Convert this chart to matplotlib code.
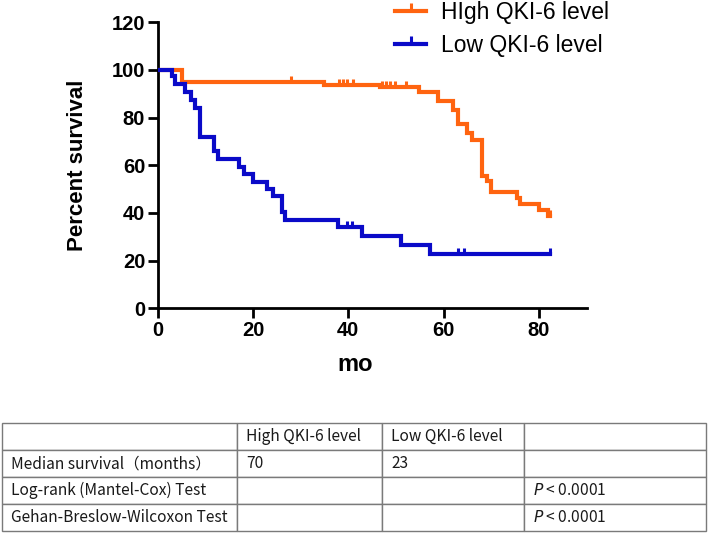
import numpy as np
import matplotlib
matplotlib.use("Agg")
import matplotlib.pyplot as plt
from matplotlib.lines import Line2D

# survival steps (month, percent after the drop)
high_t = [5.1, 34.8, 46.7, 54.8, 58.9, 62.0, 62.9, 64.9, 65.9, 68.0, 69.0, 70.0, 75.3, 76.1, 80.0, 81.9]
high_s = [95.1, 93.8, 92.8, 90.6, 86.8, 83.4, 77.4, 73.4, 70.8, 55.4, 53.3, 48.6, 46.3, 43.6, 41.1, 38.6]
high_cens_t = [28.0, 38.0, 38.9, 39.8, 41.0, 47.0, 47.8, 48.7, 49.7, 52.0, 82.2]
high_cens_s = [95.1, 93.8, 93.8, 93.8, 93.8, 92.8, 92.8, 92.8, 92.8, 92.8, 38.6]

low_t = [3.0, 3.7, 5.7, 6.9, 7.9, 8.8, 11.8, 12.7, 17.0, 18.0, 19.9, 23.0, 24.1, 26.0, 26.7, 37.8, 42.9, 51.1, 57.1]
low_s = [97.4, 94.2, 90.8, 87.4, 84.2, 71.8, 65.8, 62.6, 59.3, 56.4, 53.2, 50.1, 47.0, 40.3, 37.2, 34.2, 30.5, 26.4, 22.8]
low_cens_t = [39.7, 40.8, 63.0, 64.2, 82.2]
low_cens_s = [34.2, 34.2, 22.8, 22.8, 22.8]

labels = ["HIgh QKI-6 level", "Low QKI-6 level"]
colors = ["#FF6410", "#0A0AC8"]

xticks = [0, 20, 40, 60, 80]
yticks = [0, 20, 40, 60, 80, 100, 120]

table_rows = [
    ["", "High QKI-6 level", "Low QKI-6 level", ""],
    ["Median survival（months）", "70", "23", ""],
    ["Log-rank (Mantel-Cox) Test", "", "", "$\\it{P}$ < 0.0001"],
    ["Gehan-Breslow-Wilcoxon Test", "", "", "$\\it{P}$ < 0.0001"],
]
col_px = [235.6, 144.7, 142.0, 182.5]

plt.rcParams['font.family'] = ['Liberation Sans', 'DejaVu Sans']

fig = plt.figure(figsize=(7.09, 5.34), dpi=100)
W, H = 709, 534
ax = fig.add_axes([157.7 / W, 1 - 308.3 / H, 429 / W, 286 / H])

curves = [(high_t, high_s, high_cens_t, high_cens_s), (low_t, low_s, low_cens_t, low_cens_s)]
for (t, s, ct, cs), c in zip(curves, colors):
    x = np.concatenate([[0], t, [ct[-1]]])
    y = np.concatenate([[100], s, [s[-1]]])
    ax.plot(x, y, drawstyle='steps-post', color=c, lw=3, solid_joinstyle='miter', zorder=3)
    ax.plot(ct, cs, ls='none', marker=2, ms=4.5, mew=2.2, color=c, zorder=3)

ax.set_xlim(0, 90)
ax.set_ylim(0, 120)
ax.set_xticks(xticks)
ax.set_yticks(yticks)
for sp in ['top', 'right']:
    ax.spines[sp].set_visible(False)
for sp in ['left', 'bottom']:
    ax.spines[sp].set_linewidth(2)
ax.tick_params(width=2, length=7, pad=2, labelsize=14.5)
for lab in ax.get_xticklabels() + ax.get_yticklabels():
    lab.set_fontweight('bold')
ax.set_xlabel("mo", fontsize=17, fontweight='bold')
ax.xaxis.set_label_coords(0.46, -0.155)
ax.set_ylabel("Percent survival", fontsize=16, fontweight='bold')
ax.yaxis.set_label_coords(-0.162, 0.5)

handles = [Line2D([], [], color=c, lw=3, marker=2, ms=6, mew=2.2) for c in colors]
fig.legend(handles, labels, loc='upper left', bbox_to_anchor=(384 / W, 1 + 10 / H),
           frameon=False, fontsize=16.5, handlelength=1.35, handletextpad=0.65,
           labelspacing=0.42, borderpad=0)

# summary table
tab_ax = fig.add_axes([1.7 / W, 1 - 530.7 / H, 704.8 / W, 107.4 / H])
tab_ax.axis('off')
tbl = tab_ax.table(cellText=table_rows, colWidths=[w / sum(col_px) for w in col_px],
                   cellLoc='left', bbox=[0, 0, 1, 1])
tbl.auto_set_font_size(False)
for (r, c), cell in tbl.get_celld().items():
    cell.set_edgecolor('#7a7a7a')
    cell.set_linewidth(1.0)
    cell.PAD = 9 / col_px[c]
    cell.get_text().set_fontsize(11.2)
    cell.get_text().set_fontfamily(['Noto Sans CJK SC', 'DejaVu Sans'])
    cell.get_text().set_color('#1a1a1a')

fig.savefig("out.png", dpi=100)
